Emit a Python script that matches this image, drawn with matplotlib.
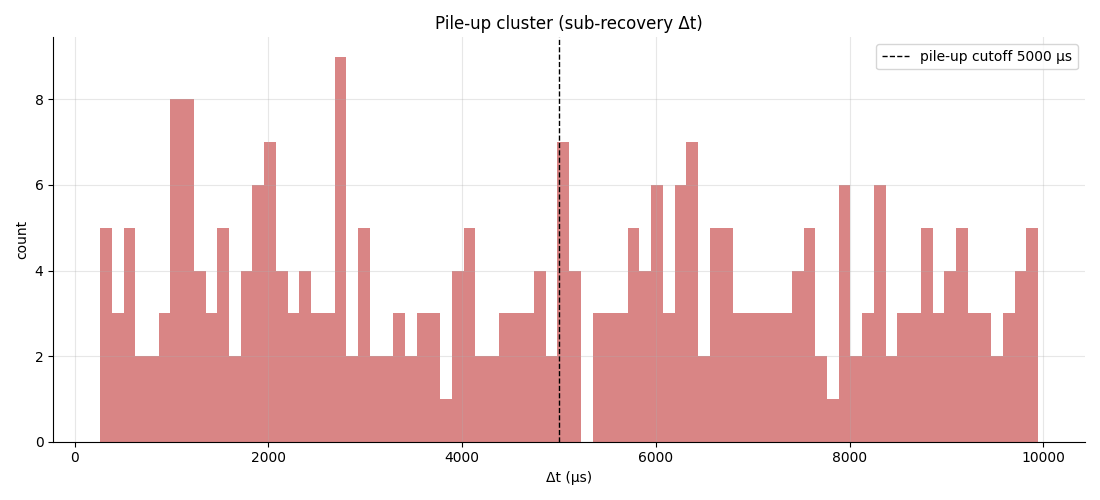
import numpy as np
import matplotlib.pyplot as plt

# histogram: 80 equal bins between dt_min and dt_max
dt_min = 262.0
dt_max = 9947.0
counts = [5, 3, 5, 2, 2, 3, 8, 8, 4, 3,
          5, 2, 4, 6, 7, 4, 3, 4, 3, 3,
          9, 2, 5, 2, 2, 3, 2, 3, 3, 1,
          4, 5, 2, 2, 3, 3, 3, 4, 2, 7,
          4, 0, 3, 3, 3, 5, 4, 6, 3, 6,
          7, 2, 5, 5, 3, 3, 3, 3, 3, 4,
          5, 2, 1, 6, 2, 3, 6, 2, 3, 3,
          5, 3, 4, 5, 3, 3, 2, 3, 4, 5]
cutoff = 5000

edges = np.linspace(dt_min, dt_max, len(counts) + 1)
centers = 0.5 * (edges[:-1] + edges[1:])

fig, ax = plt.subplots(figsize=(11, 5), dpi=100)
ax.hist(centers, bins=edges, weights=counts, color='indianred', alpha=0.75)
ax.axvline(cutoff, color='black', linestyle='--', linewidth=1,
           label=f'pile-up cutoff {cutoff} µs')

ax.set_title('Pile-up cluster (sub-recovery Δt)')
ax.set_xlabel('Δt (µs)')
ax.set_ylabel('count')
ax.grid(True, alpha=0.3)
ax.spines['top'].set_visible(False)
ax.spines['right'].set_visible(False)
ax.legend(loc='upper right')

fig.tight_layout()
fig.savefig('out.png')
